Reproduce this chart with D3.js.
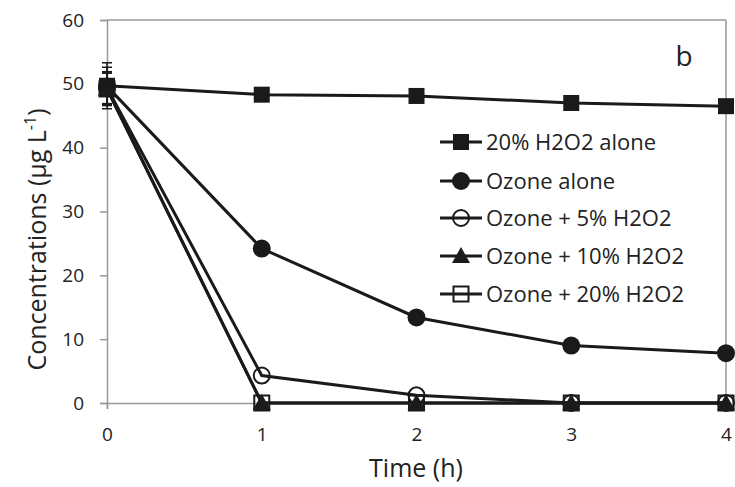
<!DOCTYPE html>
<html><head><meta charset="utf-8">
<script src="https://cdn.jsdelivr.net/npm/d3@7"></script>
<style>body{margin:0;background:#fff}svg{display:block}text{font-family:"Open Sans",sans-serif}</style>
</head><body><svg id="c" width="735" height="487"></svg>
<script>
const times = [0, 1, 2, 3, 4];
const seriesNames = ["20% H2O2 alone", "Ozone alone", "Ozone + 5% H2O2", "Ozone + 10% H2O2", "Ozone + 20% H2O2"];
const h2o2Alone = [49.7, 48.3, 48.1, 47.0, 46.5];
const ozoneAlone = [49.6, 24.2, 13.4, 9.0, 7.8];
const ozone5 = [49.4, 4.3, 1.2, 0, 0];
const ozone10 = [49.2, 0, 0, 0, 0];
const ozone20 = [49.2, 0, 0, 0, 0];
const errAtZero = [3.6, 3.0, 2.5, 2.5, 2.5];
const yTicks = [0, 10, 20, 30, 40, 50, 60];
const xTicks = [0, 1, 2, 3, 4];
const markers = ["squareFilled", "circleFilled", "circleOpen", "triangleFilled", "squareOpen"];
const allSeries = [h2o2Alone, ozoneAlone, ozone5, ozone10, ozone20];

const svg = d3.select("#c");
const L = 107, R = 726, T = 20, B = 403;
const x = d3.scaleLinear().domain([0, 4]).range([L, R]);
const y = d3.scaleLinear().domain([0, 60]).range([B, T]);
const axisCol = "#999";
const txtCol = "#222";

svg.append("line").attr("x1", L).attr("x2", R).attr("y1", T).attr("y2", T).attr("stroke", axisCol).attr("stroke-width", 1.5);
svg.append("line").attr("x1", R).attr("x2", R).attr("y1", T).attr("y2", B).attr("stroke", axisCol).attr("stroke-width", 1.5);

const yAx = svg.append("g").attr("transform", `translate(${L},0)`)
  .call(d3.axisLeft(y).tickValues(yTicks).tickFormat(d3.format("d")).tickSize(7).tickPadding(16));
const xAx = svg.append("g").attr("transform", `translate(0,${B})`)
  .call(d3.axisBottom(x).tickValues(xTicks).tickFormat(d3.format("d")).tickSize(6).tickPadding(19));
[yAx, xAx].forEach(g => {
  g.select(".domain").attr("stroke", axisCol).attr("stroke-width", 1.5);
  g.selectAll(".tick line").attr("stroke", axisCol).attr("stroke-width", 1.5);
  g.selectAll("text").attr("font-size", 19).attr("fill", txtCol).attr("font-family", "Open Sans");
});

svg.append("text").attr("x", 416).attr("y", 477).attr("text-anchor", "middle").attr("font-size", 25).attr("fill", txtCol).text("Time (h)");
const yt = svg.append("text").attr("transform", `translate(46,${(T + B) / 2 + 28}) rotate(-90)`).attr("text-anchor", "middle").attr("font-size", 25).attr("fill", txtCol);
yt.append("tspan").text("Concentrations (µg L");
yt.append("tspan").attr("font-size", 16).attr("dy", -10).text("-1");
yt.append("tspan").attr("dy", 10).text(")");

svg.append("text").attr("x", 684).attr("y", 66).attr("text-anchor", "middle").attr("font-size", 28).attr("fill", txtCol).text("b");

function drawMarker(g, type, cx, cy) {
  const col = "#1a1a1a";
  if (type === "squareFilled") g.append("rect").attr("x", cx - 8).attr("y", cy - 8).attr("width", 16).attr("height", 16).attr("fill", col);
  else if (type === "squareOpen") g.append("rect").attr("x", cx - 7.5).attr("y", cy - 7.5).attr("width", 15).attr("height", 15).attr("fill", "none").attr("stroke", col).attr("stroke-width", 2);
  else if (type === "circleFilled") g.append("circle").attr("cx", cx).attr("cy", cy).attr("r", 9).attr("fill", col);
  else if (type === "circleOpen") g.append("circle").attr("cx", cx).attr("cy", cy).attr("r", 8).attr("fill", "none").attr("stroke", col).attr("stroke-width", 2);
  else if (type === "triangleFilled") g.append("path").attr("d", `M${cx},${cy - 9}L${cx + 9},${cy + 7}L${cx - 9},${cy + 7}Z`).attr("fill", col);
}

allSeries.forEach((s, i) => {
  const e = errAtZero[i];
  const cx = x(times[0]);
  svg.append("line").attr("x1", cx).attr("x2", cx).attr("y1", y(s[0] - e)).attr("y2", y(s[0] + e)).attr("stroke", "#1a1a1a").attr("stroke-width", 1.5);
  [s[0] - e, s[0] + e].forEach(v => svg.append("line").attr("x1", cx - 5).attr("x2", cx + 5).attr("y1", y(v)).attr("y2", y(v)).attr("stroke", "#1a1a1a").attr("stroke-width", 1.5));
});

const line = d3.line().x((d, i) => x(times[i])).y(d => y(d));
allSeries.forEach(s => {
  svg.append("path").attr("d", line(s)).attr("fill", "none").attr("stroke", "#1a1a1a").attr("stroke-width", 3);
});
allSeries.forEach((s, i) => {
  const g = svg.append("g");
  s.forEach((v, j) => drawMarker(g, markers[i], x(times[j]), y(v)));
});

const legY = [142, 181, 218, 256, 294];
seriesNames.forEach((n, i) => {
  const g = svg.append("g");
  g.append("line").attr("x1", 440).attr("x2", 482).attr("y1", legY[i]).attr("y2", legY[i]).attr("stroke", "#1a1a1a").attr("stroke-width", 3);
  drawMarker(g, markers[i], 461, legY[i]);
  g.append("text").attr("x", 486).attr("y", legY[i] + 8).attr("font-size", 22).attr("fill", txtCol).text(n);
});
</script></body></html>
